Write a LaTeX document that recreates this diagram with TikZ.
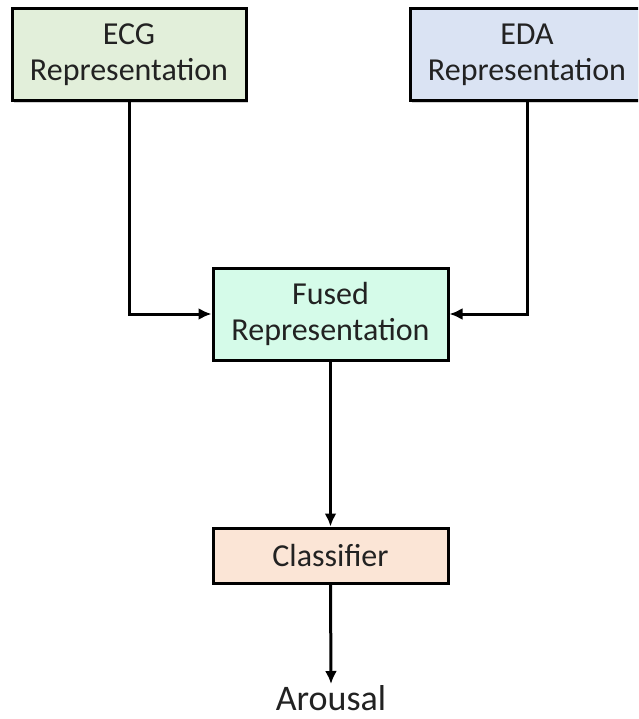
\documentclass[tikz,border=0pt]{standalone}
\usepackage{fontspec}
\setmainfont{Carlito}
\usetikzlibrary{arrows.meta,shadows}
\definecolor{ecgfill}{HTML}{E2EFDA}
\definecolor{edafill}{HTML}{DAE3F3}
\definecolor{fusedfill}{HTML}{D5FBE9}
\definecolor{clsfill}{HTML}{FBE5D6}
\definecolor{txt}{HTML}{222222}
\tikzset{
  box/.style={draw=black, line width=3pt, align=center, inner sep=0pt,
    minimum width=234pt, text=txt,
    font=\fontsize{32}{36}\selectfont,
    drop shadow={shadow xshift=1.5pt, shadow yshift=-2pt, fill=black!35, opacity=0.5}},
  conn/.style={line width=3pt, -{Latex[length=13pt,width=12pt]}},
}
\begin{document}
\begin{tikzpicture}[x=1pt,y=-1pt]
\useasboundingbox (0,0) rectangle (638,719);
\clip (0,0) rectangle (638,719);
\node[box, fill=ecgfill, minimum height=92pt] (ecg) at (129,55) {ECG\\Representation};
\node[box, fill=edafill, minimum height=92pt] (eda) at (527,55) {EDA\\Representation};
\node[box, fill=fusedfill, minimum width=235pt, minimum height=92pt] (fused) at (330.5,314) {Fused\\Representation};
\node[box, fill=clsfill, minimum width=235pt, minimum height=55pt] (cls) at (330.5,555.5) {Classifier};
\node[text=txt, font=\fontsize{36}{40}\selectfont, anchor=base, inner sep=0pt] (arousal) at (331,710) {Arousal};
\coordinate (atip) at (331,684);
\draw[conn] (ecg.south) |- (fused.west);
\draw[conn] (eda.south) |- (fused.east);
\draw[conn] (fused.south) -- (cls.north);
\draw[conn] (cls.south) -- (atip);
\end{tikzpicture}
\end{document}
